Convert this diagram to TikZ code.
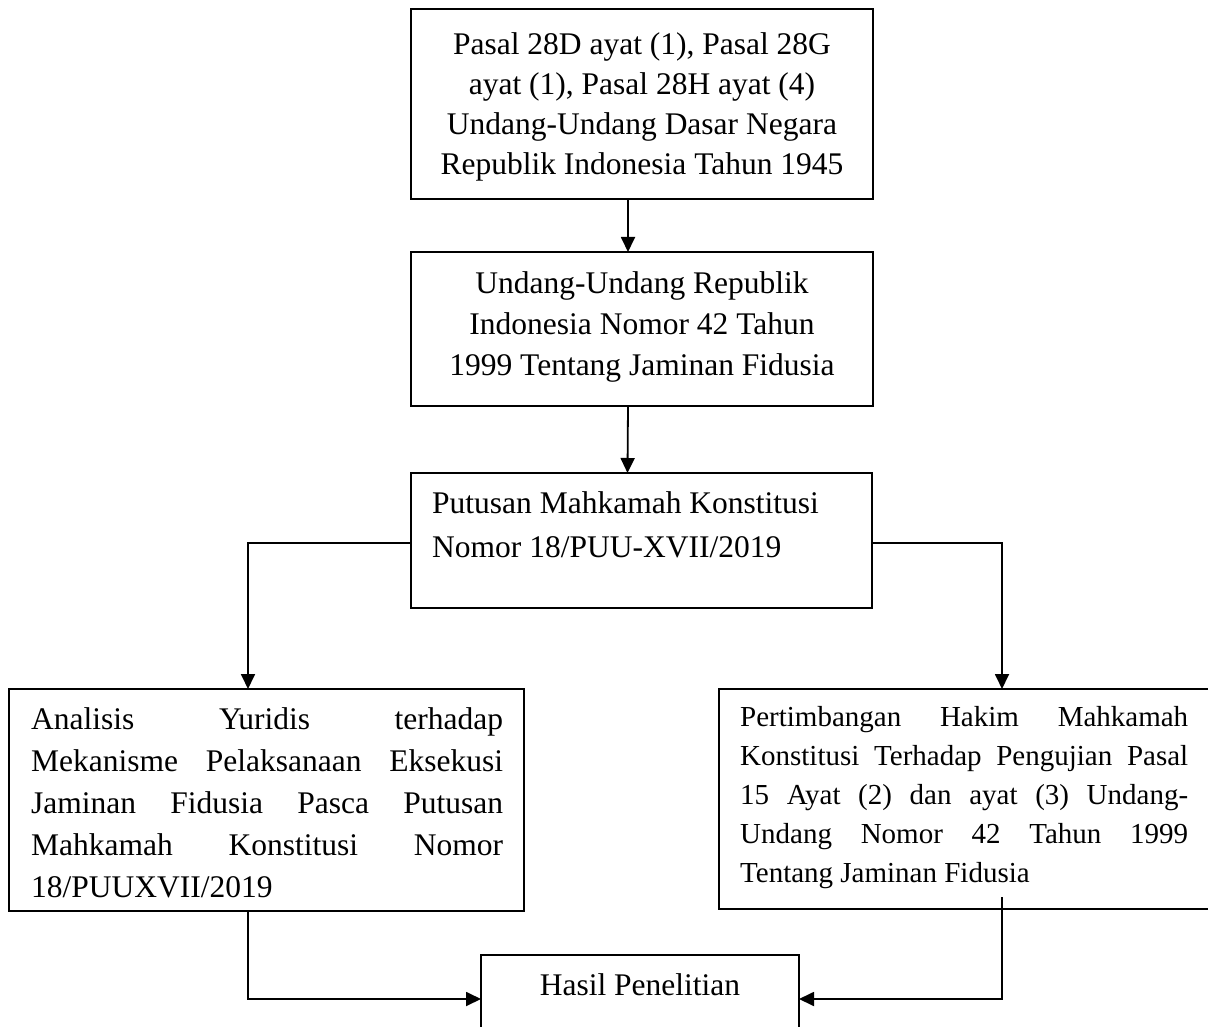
\documentclass[tikz,border=0pt]{standalone}
\usepackage{fontspec}
\setmainfont{Liberation Serif}
\usetikzlibrary{arrows.meta}
\begin{document}
\begin{tikzpicture}[x=1pt,y=-1pt,
  box/.style={draw=black, line width=1.8pt, rectangle, inner sep=0pt, outer sep=0pt, anchor=north west},
  txt/.style={inner sep=0pt, anchor=base},
  txtl/.style={inner sep=0pt, anchor=base west},
  conn/.style={line width=1.8pt, -{Triangle[length=15pt,width=14pt]}}]
\useasboundingbox (0,0) rectangle (1208,1027);
\clip (0,0) rectangle (1208,1027);
% boxes
\node[box, minimum width=462pt, minimum height=190pt] (b1) at (411,9) {};
\node[box, minimum width=462pt, minimum height=154pt] (b2) at (411,252) {};
\node[box, minimum width=461pt, minimum height=135pt] (b3) at (411,473) {};
\node[box, minimum width=515pt, minimum height=222pt] (b4) at (9,689) {};
\node[box, minimum width=501pt, minimum height=220pt] (b5) at (719,689) {};
\node[box, minimum width=318pt, minimum height=88pt] (h) at (481,955) {};
% texts
\node[txt] (t1) at (642,55) {\parbox[t]{460pt}{\centering\fontsize{31.5}{40}\selectfont
  Pasal 28D ayat (1), Pasal 28G\\ ayat (1), Pasal 28H ayat (4)\\ Undang-Undang Dasar Negara\\ Republik Indonesia Tahun 1945}};
\node[txt] (t2) at (642,294) {\parbox[t]{460pt}{\centering\fontsize{31.5}{41}\selectfont
  Undang-Undang Republik\\ Indonesia Nomor 42 Tahun\\ 1999 Tentang Jaminan Fidusia}};
\node[txtl] (t3) at (432,513) {\parbox[t]{430pt}{\raggedright\fontsize{31.5}{44}\selectfont
  Putusan Mahkamah Konstitusi\\ Nomor 18/PUU-XVII/2019}};
\node[txtl] (t4) at (31,729) {\parbox[t]{472pt}{\tolerance=10000\hyphenpenalty=10000\fontsize{31.5}{42}\selectfont
  Analisis Yuridis terhadap\linebreak Mekanisme Pelaksanaan Eksekusi\linebreak Jaminan Fidusia Pasca Putusan\linebreak Mahkamah Konstitusi Nomor\linebreak 18/PUUXVII/2019}};
\node[txtl] (t5) at (740,726) {\parbox[t]{448pt}{\tolerance=10000\hyphenpenalty=10000\fontsize{29}{39}\selectfont
  Pertimbangan Hakim Mahkamah\linebreak Konstitusi Terhadap Pengujian Pasal\linebreak 15 Ayat (2) dan ayat (3) Undang-\linebreak Undang Nomor 42 Tahun 1999\linebreak Tentang Jaminan Fidusia}};
\node[txt] (t6) at (640,995) {\fontsize{31.5}{40}\selectfont Hasil Penelitian};
% connectors
\draw[conn] ([xshift=-14pt]b1.south) -- ([xshift=-14pt]b2.north);
\draw[conn] ([xshift=-14pt]b2.south) -- ([xshift=-14pt]b3.north);
\draw[conn] ([yshift=-2.5pt]b3.west) -| ([xshift=-18.5pt]b4.north);
\draw[conn] ([yshift=-2.5pt]b3.east) -| ([xshift=32.5pt]b5.north);
\draw[conn] ([xshift=-18.5pt]b4.south) |- (h.west);
\coordinate (r5) at ([xshift=32.5pt,yshift=12pt]b5.south);
\draw[conn] (r5) |- (h.east);
\end{tikzpicture}
\end{document}
